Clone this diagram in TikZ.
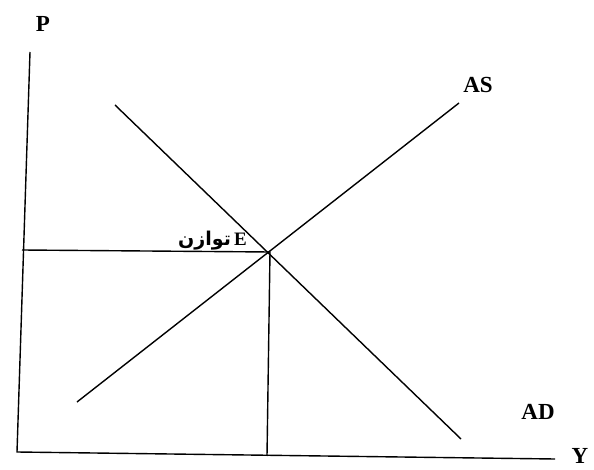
\documentclass[tikz,border=0pt]{standalone}
\usepackage{fontspec}
\setmainfont{Liberation Serif}
\newfontfamily\arabicfont[Script=Arabic]{DejaVu Sans}
\TeXXeTstate=1
\begin{document}
\begin{tikzpicture}[x=1pt,y=-1pt,
  ln/.style={line width=1.4pt,black},
  lbl/.style={font=\bfseries\fontsize{23}{26}\selectfont,inner sep=0pt}]
\useasboundingbox (0,0) rectangle (594,470);
% axes
\coordinate (ytop) at (30,52);
\coordinate (org) at (17,452);
\coordinate (xend) at (555,459);
\draw[ln] (ytop) -- (org) -- (xend);
% curves
\coordinate (E) at (270,252);
\coordinate (as0) at (77,402);
\coordinate (as1) at (459,103);
\coordinate (ad0) at (115,105);
\coordinate (ad1) at (461,439);
\draw[ln] (as0) -- (as1);
\draw[ln] (ad0) -- (ad1);
\coordinate (hl) at (22,250);
\coordinate (vb) at (267,456);
\draw[ln] (hl) -- (E) -- (vb);
% labels
\node[lbl] (P) at (43,24) {P};
\node[lbl] (Y) at (580,456) {Y};
\node[lbl] (AS) at (478,85) {AS};
\node[lbl] (AD) at (538,412) {AD};
\node[font=\bfseries\fontsize{19}{22}\selectfont,inner sep=0pt,anchor=east] (Elab) at (247,241) {{\arabicfont\fontsize{19}{22}\selectfont\bfseries\beginR توازن\endR}\,E};
\end{tikzpicture}
\end{document}
